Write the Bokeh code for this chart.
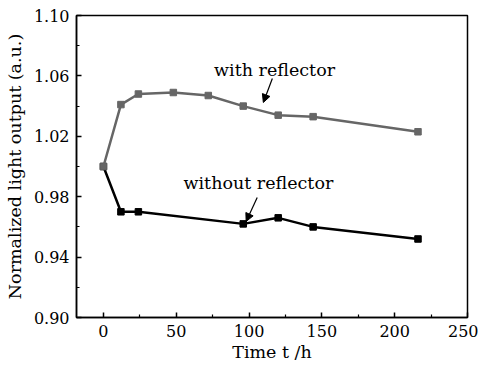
from bokeh.plotting import figure
from bokeh.models import Label, Arrow, NormalHead, FixedTicker, Range1d, ColumnDataSource
from bokeh.embed import file_html
from bokeh.resources import INLINE

# ---- data ----
time_h = [0, 12, 24, 48, 72, 96, 120, 144, 216]
with_reflector = [1.000, 1.041, 1.048, 1.049, 1.047, 1.040, 1.034, 1.033, 1.023]
time_h_without = [0, 12, 24, 96, 120, 144, 216]
without_reflector = [1.000, 0.970, 0.970, 0.962, 0.966, 0.960, 0.952]

x_ticks = [0, 50, 100, 150, 200, 250]
x_minor = [25, 75, 125, 175, 225]
y_ticks = [0.90, 0.94, 0.98, 1.02, 1.06, 1.10]
y_tick_labels = ["0.90", "0.94", "0.98", "1.02", "1.06", "1.10"]
y_minor = [0.92, 0.96, 1.00, 1.04, 1.08]

FONT = "'DejaVu Serif'"
GRAY = "#666666"

p = figure(width=478, height=366, x_range=Range1d(-18.5, 250), y_range=Range1d(0.90, 1.10),
           output_backend="svg", toolbar_location=None,
           min_border_left=76, min_border_right=11, min_border_top=15, min_border_bottom=49)
p.xgrid.visible = False
p.ygrid.visible = False
p.outline_line_color = "black"
p.outline_line_width = 1.5
p.outline_line_alpha = 1.0

p.xaxis.ticker = FixedTicker(ticks=x_ticks, minor_ticks=x_minor)
p.yaxis.ticker = FixedTicker(ticks=y_ticks, minor_ticks=y_minor)
p.yaxis.major_label_overrides = {t: l for t, l in zip(y_ticks, y_tick_labels)}

for ax in (p.xaxis[0], p.yaxis[0]):
    ax.axis_line_width = 1.5
    ax.axis_line_color = "black"
    ax.major_tick_in = 5
    ax.major_tick_out = 0
    ax.minor_tick_in = 3
    ax.minor_tick_out = 0
    ax.major_tick_line_color = "black"
    ax.minor_tick_line_color = "black"
    ax.major_tick_line_width = 1.5
    ax.minor_tick_line_width = 1.2
    ax.major_label_text_font = FONT
    ax.major_label_text_font_size = "16px"
    ax.major_label_text_color = "black"
    ax.major_label_standoff = 7
    ax.axis_label_text_font = FONT
    ax.axis_label_text_font_size = "17.5px"
    ax.axis_label_text_font_style = "normal"
    ax.axis_label_text_color = "black"

p.yaxis.axis_label = "Normalized light output (a.u.)"
p.yaxis.axis_label_standoff = 6
p.xaxis.axis_label = "Time t /h"
p.xaxis.axis_label_standoff = 2

# series
src_b = ColumnDataSource(dict(x=time_h_without, y=without_reflector))
src_g = ColumnDataSource(dict(x=time_h, y=with_reflector))
p.line("x", "y", source=src_b, line_color="black", line_width=2.5)
p.scatter("x", "y", source=src_b, marker="square", size=6.5, fill_color="black", line_color="black")
p.line("x", "y", source=src_g, line_color=GRAY, line_width=2.5)
p.scatter("x", "y", source=src_g, marker="square", size=6.5, fill_color=GRAY, line_color=GRAY)

# annotations
p.add_layout(Label(x=76, y=1.0636, text="with reflector", text_font=FONT, text_font_size="17.5px",
                   text_baseline="middle", text_align="left", text_color="black"))
p.add_layout(Label(x=55, y=0.989, text="without reflector", text_font=FONT, text_font_size="17.5px",
                   text_baseline="middle", text_align="left", text_color="black"))
p.add_layout(Arrow(x_start=116, y_start=1.0583, x_end=109.8, y_end=1.0424, line_width=1.2,
                   end=NormalHead(size=8, fill_color="black", line_color="black")))
p.add_layout(Arrow(x_start=105.6, y_start=0.9795, x_end=98.0, y_end=0.9636, line_width=1.2,
                   end=NormalHead(size=8, fill_color="black", line_color="black")))

open("out.html", "w").write(file_html(p, INLINE))
